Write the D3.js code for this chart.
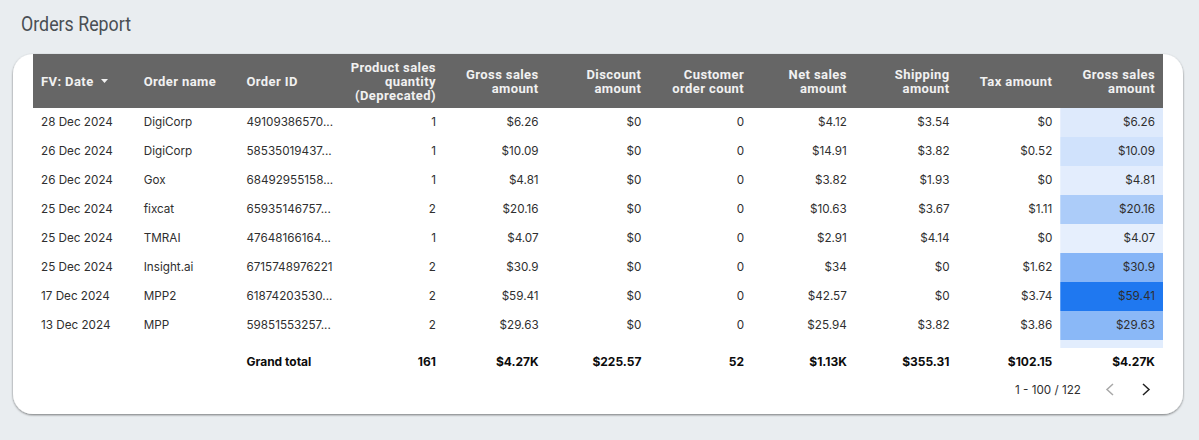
<!DOCTYPE html>
<html lang="en">
<head>
<meta charset="UTF-8">
<title>Orders Report</title>
<style>
    body { margin: 0; background: #e9edf0; overflow: hidden; }
    svg { display: block; }
    .head { font-family: Roboto, sans-serif; font-weight: 700; font-size: 13px; letter-spacing: 0.4px; fill: #f1f1f1; }
    .cell { font-family: Inter, "Noto Sans", sans-serif; font-size: 11.7px; fill: #2f2f2f; }
    .total { font-family: Inter, "Noto Sans", sans-serif; font-size: 12px; font-weight: 700; fill: #0c0c0c; }
</style>
<script src="https://cdn.jsdelivr.net/npm/d3@7"></script>
</head>
<body>
<svg id="chart" width="1199" height="440"></svg>
<script>
    // table content
    const headers = [
        ["FV: Date"], ["Order name"], ["Order ID"],
        ["Product sales", "quantity", "(Deprecated)"],
        ["Gross sales", "amount"], ["Discount", "amount"], ["Customer", "order count"],
        ["Net sales", "amount"], ["Shipping", "amount"], ["Tax amount"], ["Gross sales", "amount"]
    ];
    const dates = ["28 Dec 2024", "26 Dec 2024", "26 Dec 2024", "25 Dec 2024", "25 Dec 2024", "25 Dec 2024", "17 Dec 2024", "13 Dec 2024"];
    const names = ["DigiCorp", "DigiCorp", "Gox", "fixcat", "TMRAI", "Insight.ai", "MPP2", "MPP"];
    const orderIds = ["49109386570...", "58535019437...", "68492955158...", "65935146757...", "47648166164...", "6715748976221", "61874203530...", "59851553257..."];
    const quantity = [1, 1, 1, 2, 1, 2, 2, 2];
    const grossSales = [6.26, 10.09, 4.81, 20.16, 4.07, 30.9, 59.41, 29.63];
    const discount = [0, 0, 0, 0, 0, 0, 0, 0];
    const customerOrders = [0, 0, 0, 0, 0, 0, 0, 0];
    const netSales = [4.12, 14.91, 3.82, 10.63, 2.91, 34, 42.57, 25.94];
    const shipping = [3.54, 3.82, 1.93, 3.67, 4.14, 0, 0, 3.82];
    const tax = [0, 0.52, 0, 1.11, 0, 1.62, 3.74, 3.86];
    const totals = ["", "", "Grand total", "161", "$4.27K", "$225.57", "52", "$1.13K", "$355.31", "$102.15", "$4.27K"];
    const nextRowGross = 5.2; // row cut off by the scroll area, only its colour shows
    const pageLabel = "1 - 100 / 122";

    const money = v => "$" + v;
    const rows = dates.map((d, i) => [
        d, names[i], orderIds[i], String(quantity[i]), money(grossSales[i]), money(discount[i]),
        String(customerOrders[i]), money(netSales[i]), money(shipping[i]), money(tax[i]), money(grossSales[i])
    ]);

    const svg = d3.select("#chart");

    // page title
    svg.append("text")
        .attr("x", 21).attr("y", 31)
        .attr("textLength", 110).attr("lengthAdjust", "spacingAndGlyphs")
        .style("font-family", "Roboto, sans-serif")
        .style("font-size", "20px")
        .style("fill", "#4a4f54")
        .text("Orders Report");

    // card with its soft shadow
    const defs = svg.append("defs");
    const shadow = defs.append("filter").attr("id", "shadow").attr("x", "-5%").attr("y", "-5%").attr("width", "110%").attr("height", "110%");
    shadow.append("feDropShadow").attr("dx", 0).attr("dy", 1).attr("stdDeviation", 0.8).attr("flood-color", "#000").attr("flood-opacity", 0.5);
    defs.append("clipPath").attr("id", "body-clip").append("rect")
        .attr("x", 33).attr("y", 108).attr("width", 1130).attr("height", 240);

    svg.append("rect")
        .attr("x", 13).attr("y", 54).attr("width", 1170).attr("height", 360).attr("rx", 20)
        .attr("fill", "#fff").attr("filter", "url(#shadow)");

    // scales
    const x = d3.scaleBand().domain(d3.range(headers.length)).range([33, 1163]);
    const y = d3.scaleBand().domain(d3.range(rows.length + 1)).range([108, 108 + 29 * (rows.length + 1)]);
    const heat = d3.scaleLinear().domain(d3.extent(grossSales)).range(["#e6effd", "#1f78f0"]);
    const pad = 8;
    const isLeft = c => c < 3;
    const textX = c => isLeft(c) ? x(c) + pad : x(c) + x.bandwidth() - pad;
    const anchor = c => isLeft(c) ? "start" : "end";

    // header band
    svg.append("rect").attr("x", 33).attr("y", 54).attr("width", 1130).attr("height", 54).attr("fill", "#666");
    const lineH = 14;
    headers.forEach((lines, c) => {
        const t = svg.append("text").attr("class", "head").attr("text-anchor", anchor(c));
        lines.forEach((l, i) => {
            t.append("tspan").attr("x", textX(c))
                .attr("y", 81 + 4.5 + (i - (lines.length - 1) / 2) * lineH)
                .text(l);
        });
    });
    // sort arrow next to the date header
    svg.append("path")
        .attr("d", d3.line()([[101, 79], [108, 79], [104.5, 83]]) + "Z")
        .attr("fill", "#f1f1f1");

    // rows
    const body = svg.append("g").attr("clip-path", "url(#body-clip)");
    body.selectAll("rect.heat")
        .data(grossSales.concat([nextRowGross]))
        .join("rect")
        .attr("class", "heat")
        .attr("x", x(10)).attr("width", x.bandwidth())
        .attr("y", (d, i) => y(i))
        .attr("height", y.bandwidth())
        .attr("fill", d => heat(d));

    body.selectAll("g.row")
        .data(rows)
        .join("g")
        .attr("class", "row")
        .attr("transform", (d, i) => `translate(0,${y(i) + 17.5})`)
        .selectAll("text")
        .data(d => d)
        .join("text")
        .attr("class", "cell")
        .attr("x", (d, c) => textX(c))
        .attr("text-anchor", (d, c) => anchor(c))
        .text(d => d);

    // grand total
    svg.append("g").selectAll("text")
        .data(totals)
        .join("text")
        .attr("class", "total")
        .attr("x", (d, c) => textX(c))
        .attr("y", 366)
        .attr("text-anchor", (d, c) => anchor(c))
        .text(d => d);

    // pagination
    svg.append("text").attr("class", "cell")
        .attr("x", 1081).attr("y", 393.5).attr("text-anchor", "end")
        .text(pageLabel);
    const chevron = d3.line();
    svg.append("path").attr("d", chevron([[1113, 384], [1107, 389.5], [1113, 395]]))
        .attr("fill", "none").attr("stroke", "#a8a8a8").attr("stroke-width", 1.5);
    svg.append("path").attr("d", chevron([[1143, 384], [1149, 389.5], [1143, 395]]))
        .attr("fill", "none").attr("stroke", "#222").attr("stroke-width", 1.5);
</script>
</body>
</html>
